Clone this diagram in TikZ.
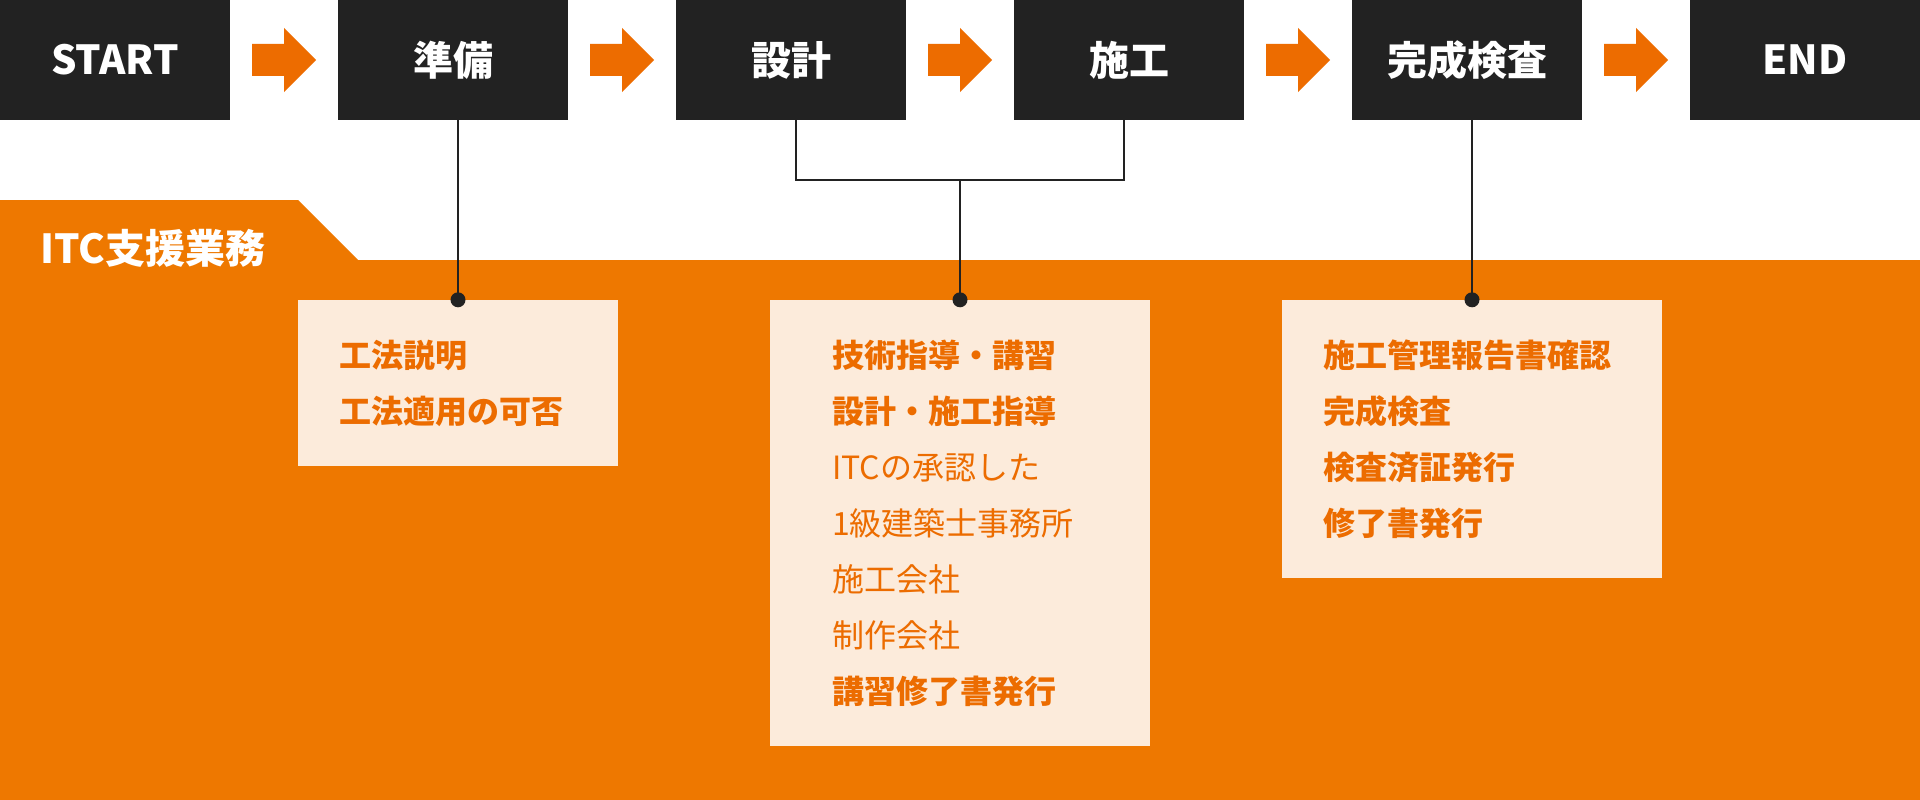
\documentclass[tikz,border=0pt]{standalone}
\usepackage{fontspec}
\newfontfamily\jp{Noto Sans CJK JP}
\usetikzlibrary{calc}
\definecolor{dark}{HTML}{222222}
\definecolor{band}{HTML}{EE7800}
\definecolor{arrowc}{HTML}{ED6C00}
\definecolor{boxfill}{HTML}{FCEBDB}
\definecolor{txtor}{HTML}{EC6C00}
\tikzset{
  stepbox/.style={fill=dark, draw=none, minimum width=230pt, minimum height=120pt, inner sep=0pt,
    text=white, font=\jp\bfseries\fontsize{40}{48}\selectfont},
  infobox/.style={fill=boxfill, draw=none, inner sep=0pt},
  boldline/.style={anchor=base west, inner sep=0pt, text=txtor, font=\jp\bfseries\fontsize{32}{40}\selectfont},
  regline/.style={anchor=base west, inner sep=0pt, text=txtor, font=\jp\fontsize{32}{40}\selectfont},
  conn/.style={draw=dark, line width=2pt},
  blockarrow/.style={fill=arrowc, draw=none},
}
\begin{document}
\begin{tikzpicture}[x=1pt,y=-1pt]
\useasboundingbox (0,0) rectangle (1920,800);
\fill[white] (0,0) rectangle (1920,800);
% band
\fill[band] (0,200) -- (298,200) -- (358,260) -- (1920,260) -- (1920,800) -- (0,800) -- cycle;
\node[anchor=base west, inner sep=0pt, text=white, font=\jp\bfseries\fontsize{40}{48}\selectfont] (itc) at (40,263) {ITC支援業務};
% top steps
\node[stepbox] (start) at (115,60) {START};
\node[stepbox] (prep) at (453,60) {準備};
\node[stepbox] (sekkei) at (791,60) {設計};
\node[stepbox] (sekou) at (1129,60) {施工};
\node[stepbox] (kensa) at (1467,60) {完成検査};
\node[stepbox] (finish) at (1805,60) {END};
% block arrows
\foreach \a/\b in {start/prep, prep/sekkei, sekkei/sekou, sekou/kensa, kensa/finish}{
  \coordinate (m-\a) at ($(\a.east)!0.5!(\b.west)$);
  \fill[blockarrow] ($(m-\a)+(-32,-16)$) -- ($(m-\a)+(0,-16)$) -- ($(m-\a)+(0,-32)$) -- ($(m-\a)+(32,0)$)
    -- ($(m-\a)+(0,32)$) -- ($(m-\a)+(0,16)$) -- ($(m-\a)+(-32,16)$) -- cycle;
}
% info boxes
\node[infobox, minimum width=320pt, minimum height=166pt] (b1) at (458,383) {};
\node[infobox, minimum width=380pt, minimum height=446pt] (b2) at (960,523) {};
\node[infobox, minimum width=380pt, minimum height=278pt] (b3) at (1472,439) {};
% connectors
\draw[conn] (b1.north) -- (b1.north |- prep.south);
\coordinate (j) at ($(b2.north)+(0,-120)$);
\draw[conn] ($(sekkei.south)+(5,0)$) |- ($(sekou.south)+(-5,60)$) -- ($(sekou.south)+(-5,0)$);
\draw[conn] (b2.north) -- (j);
\draw[conn] (b3.north) -- (b3.north |- kensa.south);
\fill[dark] (b1.north) circle[radius=7.5pt];
\fill[dark] (b2.north) circle[radius=7.5pt];
\fill[dark] (b3.north) circle[radius=7.5pt];
% box 1 text
\node[boldline] (b1l1) at ($(b1.north west)+(41,68)$) {工法説明};
\node[boldline] (b1l2) at ($(b1.north west)+(41,124)$) {工法適用の可否};
% box 2 text
\node[boldline] (b2l1) at ($(b2.north west)+(62,68)$) {技術指導・講習};
\node[boldline] (b2l2) at ($(b2.north west)+(62,124)$) {設計・施工指導};
\node[regline] (b2l3) at ($(b2.north west)+(62,180)$) {ITCの承認した};
\node[regline] (b2l4) at ($(b2.north west)+(62,236)$) {1級建築士事務所};
\node[regline] (b2l5) at ($(b2.north west)+(62,292)$) {施工会社};
\node[regline] (b2l6) at ($(b2.north west)+(62,348)$) {制作会社};
\node[boldline] (b2l7) at ($(b2.north west)+(62,404)$) {講習修了書発行};
% box 3 text
\node[boldline] (b3l1) at ($(b3.north west)+(41,68)$) {施工管理報告書確認};
\node[boldline] (b3l2) at ($(b3.north west)+(41,124)$) {完成検査};
\node[boldline] (b3l3) at ($(b3.north west)+(41,180)$) {検査済証発行};
\node[boldline] (b3l4) at ($(b3.north west)+(41,236)$) {修了書発行};
\end{tikzpicture}
\end{document}
